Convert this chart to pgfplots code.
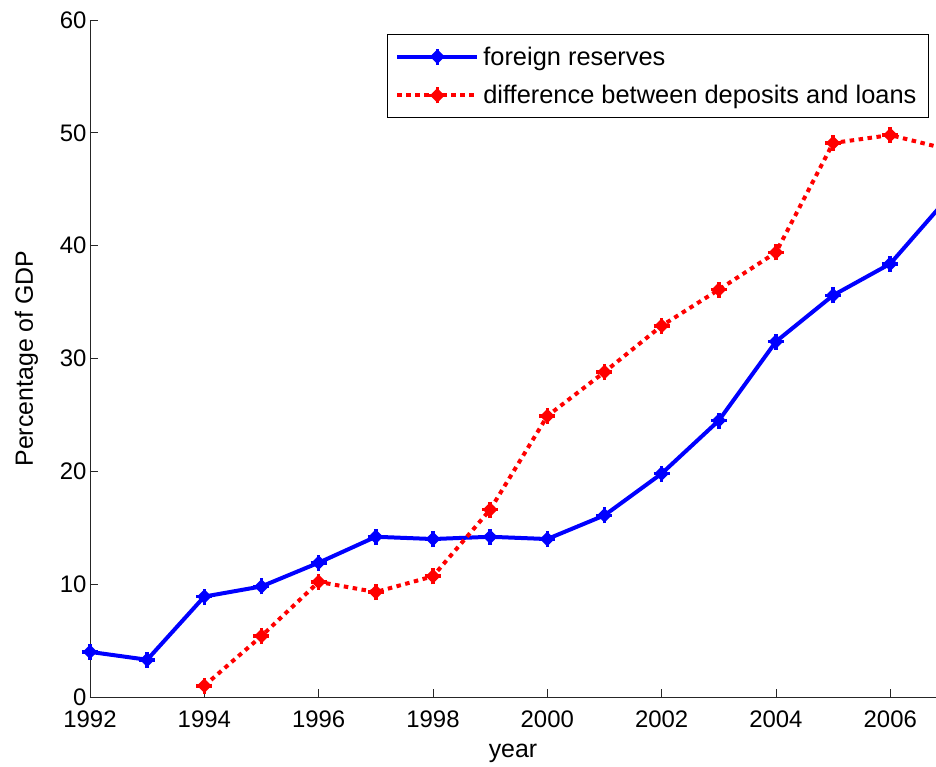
\documentclass[border=0pt]{standalone}
\usepackage{pgfplots}
\pgfplotsset{compat=1.18}
\usepackage{fontspec}
\setmainfont{Liberation Sans}
\pgfdeclareplotmark{mplus}{%
  \pgfpathmoveto{\pgfqpoint{-\pgfplotmarksize}{0pt}}\pgfpathlineto{\pgfqpoint{\pgfplotmarksize}{0pt}}%
  \pgfpathmoveto{\pgfqpoint{0pt}{-\pgfplotmarksize}}\pgfpathlineto{\pgfqpoint{0pt}{\pgfplotmarksize}}%
  \pgfusepathqstroke
  \pgfpathmoveto{\pgfqpoint{-0.6\pgfplotmarksize}{0pt}}\pgfpathlineto{\pgfqpoint{0pt}{0.6\pgfplotmarksize}}%
  \pgfpathlineto{\pgfqpoint{0.6\pgfplotmarksize}{0pt}}\pgfpathlineto{\pgfqpoint{0pt}{-0.6\pgfplotmarksize}}\pgfpathclose
  \pgfusepathqfillstroke
}
\begin{document}
\begin{tikzpicture}
\useasboundingbox (-90bp,-70bp) rectangle (846bp,697bp);
\begin{axis}[
  at={(0,0)}, anchor=south west,
  scale only axis, width=846bp, height=677bp,
  xmin=1992, xmax=2006.8, ymin=0, ymax=60,
  axis x line*=bottom, axis y line*=left,
  axis line style={line width=0.8bp, black!85},
  xtick={1992,1994,...,2006}, ytick={0,10,...,60},
  tick align=inside, major tick length=8bp,
  every tick/.style={black!85, line width=0.8bp},
  /pgf/number format/assume math mode=true,
  xticklabel style={/pgf/number format/1000 sep={}, anchor=base, yshift=-30bp},
  tick label style={font=\fontsize{24}{28}\selectfont},
  label style={font=\fontsize{25}{30}\selectfont},
  xlabel={year}, ylabel={Percentage of GDP},
  xlabel style={at={(axis description cs:0.5,0)}, anchor=base, yshift=-60bp},
  ylabel style={at={(axis description cs:-0.0674,0.5)}, anchor=base},
  legend cell align=left,
  legend style={at={(rel axis cs:0.351,0.979)}, anchor=north west,
    draw=black, line width=0.8bp, fill=white,
    font=\fontsize{25.5}{30}\selectfont,
    inner xsep=8bp, inner ysep=8bp, row sep=11bp,
    nodes={inner sep=4bp}},
  legend image code/.code={\draw[mark repeat=2,mark phase=2] plot coordinates {(0bp,0bp) (40bp,0bp) (80bp,0bp)};},
  clip=true,
]
\addplot[blue, line width=4bp, mark=mplus, mark size=8bp, mark options={solid, line width=3.6bp}]
  coordinates {(1992,4.0) (1993,3.3) (1994,8.9) (1995,9.8) (1996,11.9) (1997,14.2) (1998,14.0) (1999,14.2) (2000,14.0) (2001,16.1) (2002,19.8) (2003,24.5) (2004,31.5) (2005,35.6) (2006,38.4) (2007,44.2)};
\addlegendentry{foreign reserves}
\addplot[red, line width=4bp, dash pattern=on 4.5bp off 4.5bp, mark=mplus, mark size=8bp, mark options={solid, line width=3.6bp}]
  coordinates {(1994,1.0) (1995,5.4) (1996,10.2) (1997,9.3) (1998,10.7) (1999,16.6) (2000,24.9) (2001,28.8) (2002,32.9) (2003,36.1) (2004,39.4) (2005,49.1) (2006,49.8) (2007,48.55)};
\addlegendentry{difference between deposits and loans}
\end{axis}
\end{tikzpicture}
\end{document}
